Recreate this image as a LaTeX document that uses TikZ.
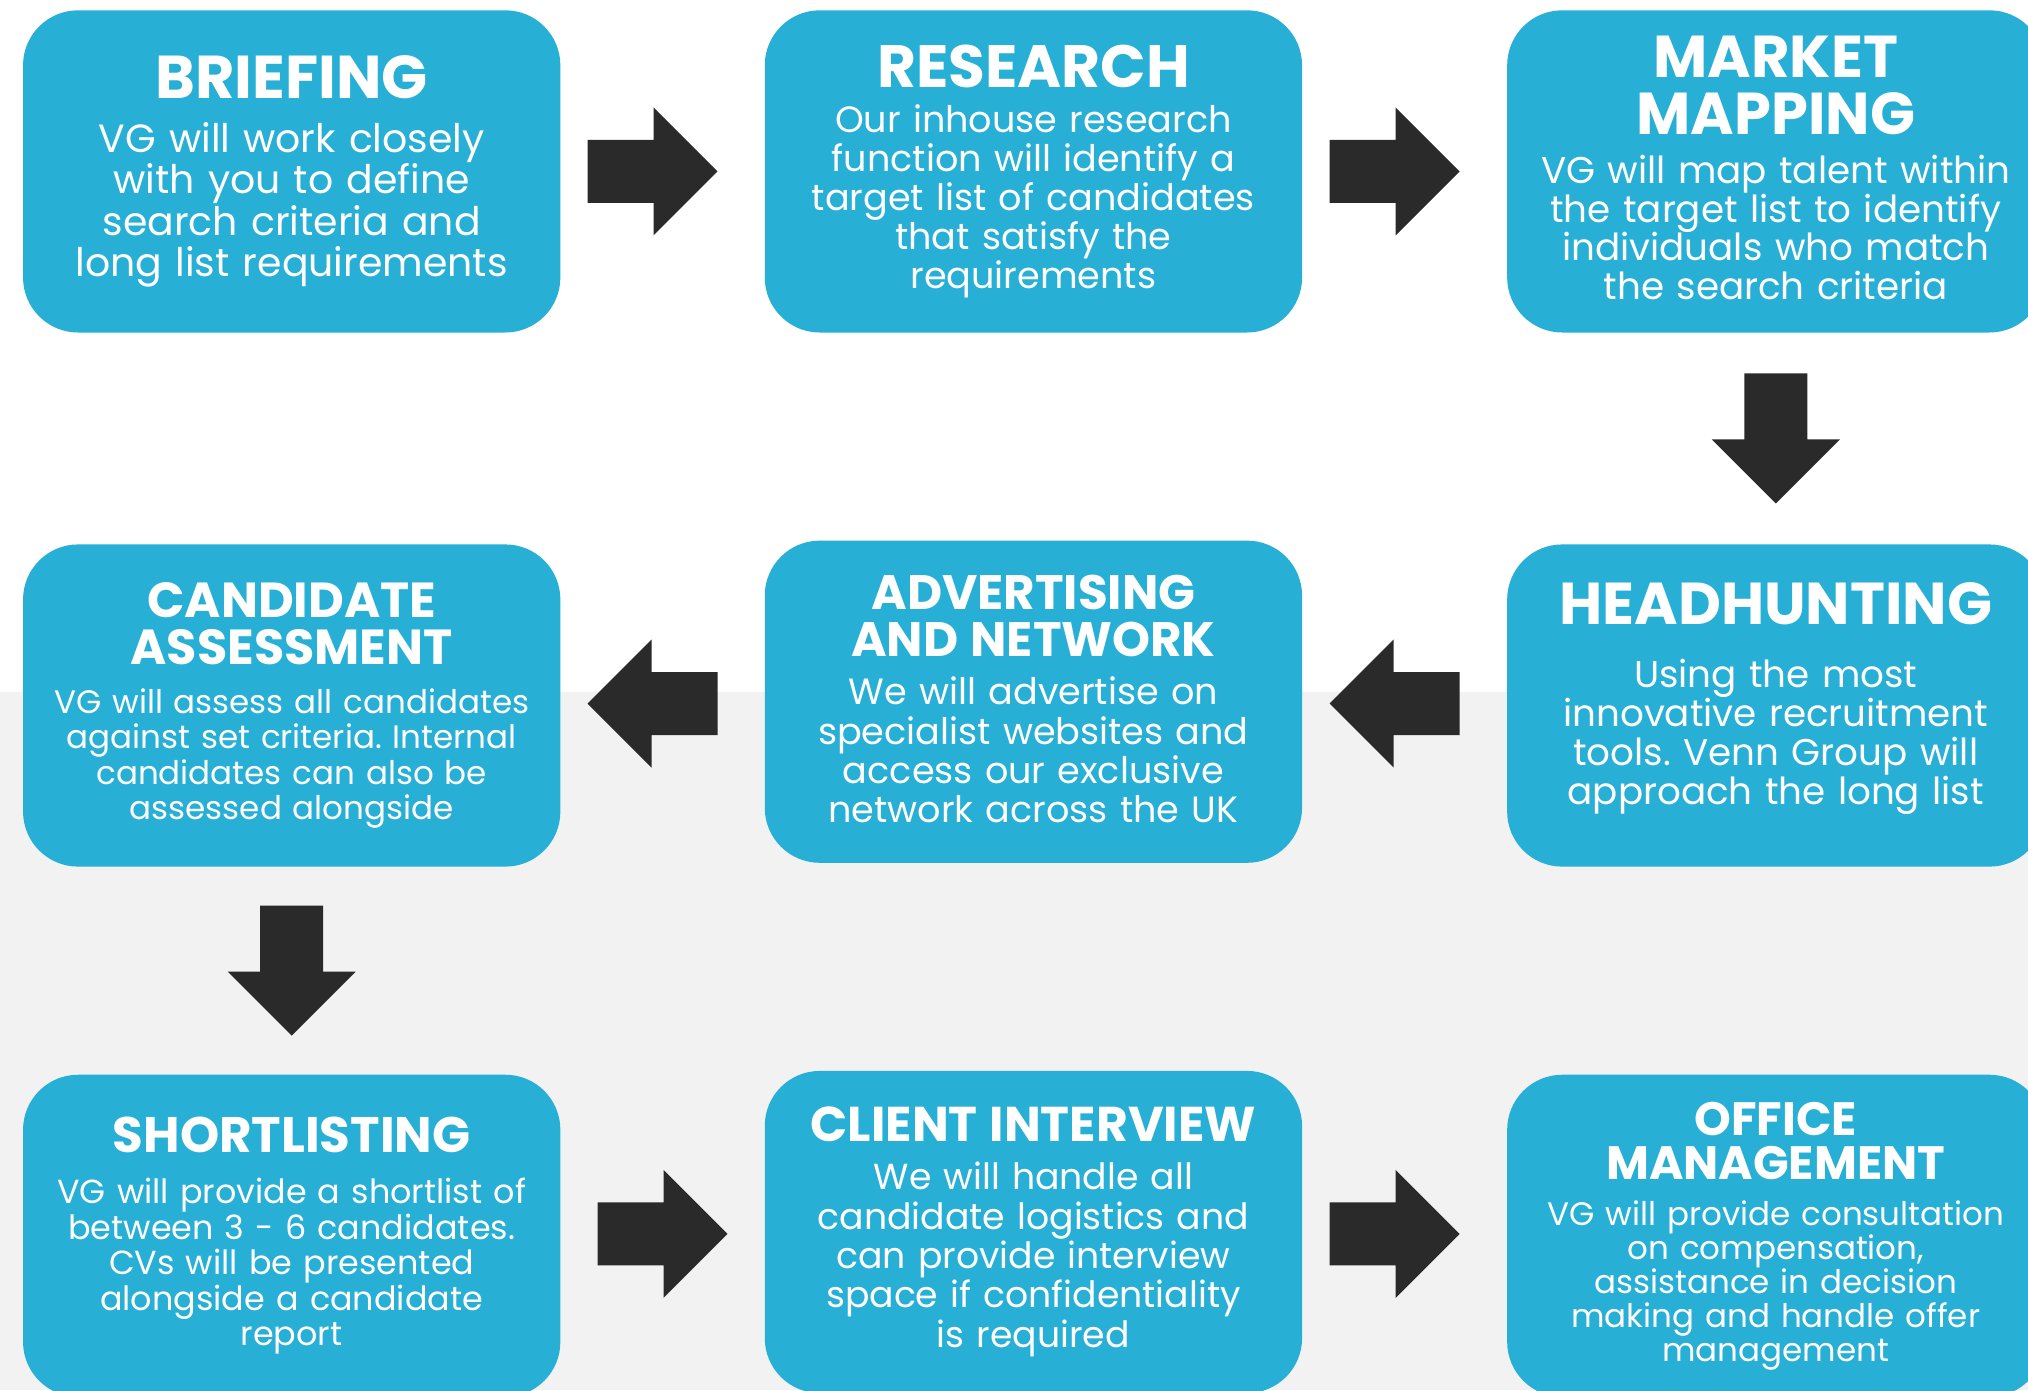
\documentclass[tikz,border=0pt]{standalone}
\usepackage{fontspec}
\setmainfont{Poppins}
\usetikzlibrary{calc}
\usetikzlibrary{positioning}
\definecolor{stageblue}{RGB}{39,175,214}
\definecolor{arrowgrey}{RGB}{42,42,42}
\definecolor{lowergrey}{RGB}{242,242,242}
\setlength{\parindent}{0pt}
\frenchspacing
\newcommand{\headsize}[2]{\fontsize{#1}{#2}\selectfont\bfseries}
\newcommand{\bodysize}[2]{\fontsize{#1}{#2}\selectfont}
\tikzset{stage/.style = {fill = stageblue, text = white, rounded corners = 0.55cm,
                         minimum width = 5.37cm, minimum height = 3.22cm,
                         text width = 5.3cm, align = center, inner sep = 0pt},
         blockarrow/.pic = {\fill [arrowgrey] (-65, -31.5) -- (1, -31.5) -- (1, -64)
                                              -- (65, 0) -- (1, 64) -- (1, 31.5)
                                              -- (-65, 31.5) -- cycle;}}

\begin{document}
\begin{tikzpicture}[x = 0.01cm, y = 0.01cm]
      \clip (0, 0) rectangle (2028, -1390);
      \fill [white] (0, 0) rectangle (2028, -1390);
      \fill [lowergrey] (0, -692) rectangle (2028, -1390);
      \node [stage, font = \bodysize{11.2}{11.8}] (brief) at (291.7, -171.4)
            {{\headsize{17.2}{16.3}BRIEFING\par}\vskip3.5pt
             VG will work closely\\ with you to define\\ search criteria and\\ long list requirements};
      \node [stage, font = \bodysize{10.4}{11.1}] (research) at (1033.4, -171.4)
            {{\headsize{17}{16.2}RESEARCH\par}\vskip1.5pt
             Our inhouse research\\ function will identify a\\ target list of candidates\\ that satisfy the\\ requirements};
      \node [stage, font = \bodysize{10.6}{11}] (mapping) at (1775.8, -171.4)
            {{\headsize{16.8}{16.2}MARKET\\ MAPPING\par}\vskip3pt
             VG will map talent within\\ the target list to identify\\ individuals who match\\ the search criteria\par\vspace*{2pt}};
      \node [stage, font = \bodysize{9.25}{10.05}] (assess) at (291.7, -705.5)
            {{\headsize{14}{13.3}CANDIDATE\\ ASSESSMENT\par}\vskip3.8pt
             VG will assess all candidates\\ against set criteria. Internal\\ candidates can also be\\ assessed alongside};
      \node [stage, font = \bodysize{10.4}{11.15}] (advert) at (1033.4, -701.7)
            {{\headsize{13.75}{13.3}ADVERTISING\\ AND NETWORK\par}\vskip2.6pt
             We will advertise on\\ specialist websites and\\ access our exclusive\\ network across the UK\par\vspace*{1.5pt}};
      \node [stage, font = \bodysize{10.6}{11.15}] (headhunt) at (1775.8, -705.5)
            {{\headsize{16.8}{16.2}HEADHUNTING\par}\vskip6.6pt
             Using the most\\ innovative recruitment\\ tools. Venn Group will\\ approach the long list\par\vspace*{3.7pt}};
      \node [stage, font = \bodysize{9.5}{10.1}] (shortlist) at (291.7, -1235.8)
            {{\headsize{14.2}{13.3}SHORTLISTING\par}\vskip4.3pt
             VG will provide a shortlist of\\ between 3 - 6 candidates.\\ CVs will be presented\\ alongside a candidate\\ report};
      \node [stage, font = \bodysize{10.3}{11.2}] (interview) at (1033.4, -1232)
            {{\headsize{13.9}{13.3}CLIENT INTERVIEW\par}\vskip2.4pt
             We will handle all\\ candidate logistics and\\ can provide interview\\ space if confidentiality\\ is required};
      \node [stage, font = \bodysize{9.25}{9.66}] (office) at (1775.8, -1235.8)
            {{\headsize{13.3}{12.6}OFFICE\\ MANAGEMENT\par}\vskip3.4pt
             VG will provide consultation\\ on compensation,\\ assistance in decision\\ making and handle offer\\ management};
      \pic at ($(brief.east)!0.5!(research.west) + (-10, 0)$) {blockarrow};
      \pic at ($(research.east)!0.5!(mapping.west) + (-10, 0)$) {blockarrow};
      \pic [rotate = -90] at ($(mapping.south)!0.5!(headhunt.north)$) {blockarrow};
      \pic [rotate = 180] at ($(headhunt.west)!0.5!(advert.east) + (-10, 0)$) {blockarrow};
      \pic [rotate = 180] at ($(advert.west)!0.5!(assess.east) + (-10, 0)$) {blockarrow};
      \pic [rotate = -90] at ($(assess.south)!0.5!(shortlist.north)$) {blockarrow};
      \pic at ($(shortlist.east)!0.5!(interview.west)$) {blockarrow};
      \pic at ($(interview.east)!0.5!(office.west) + (-10, 0)$) {blockarrow};
    \end{tikzpicture}
\end{document}
